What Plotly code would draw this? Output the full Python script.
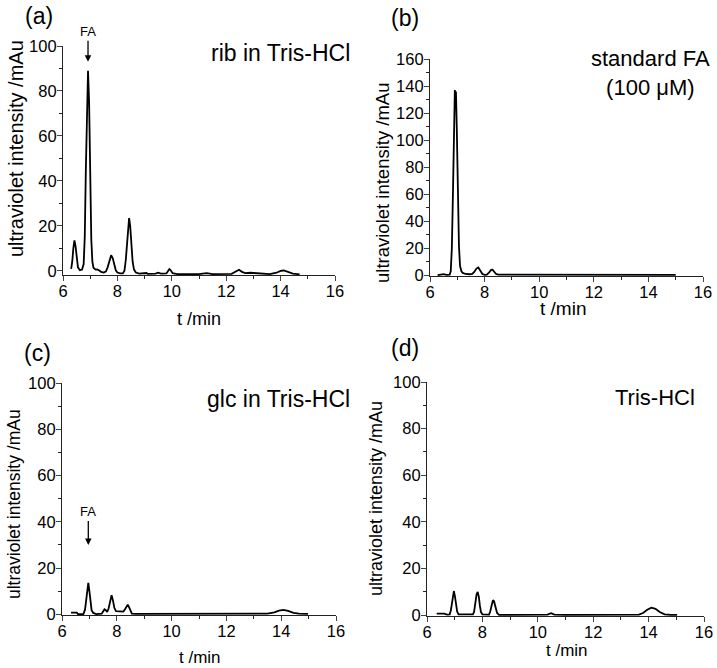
import plotly.graph_objects as go

# ---------------- data ----------------
t_a = [6.30, 6.34, 6.38, 6.42, 6.46, 6.50, 6.55, 6.62, 6.70, 6.76, 6.80, 6.84, 6.88, 6.92, 6.96,
       7.00, 7.04, 7.08, 7.12, 7.20, 7.26, 7.32, 7.40, 7.50, 7.58, 7.64, 7.70, 7.77, 7.83, 7.88,
       7.94, 8.00, 8.10, 8.20, 8.26, 8.31, 8.36, 8.40, 8.43, 8.47, 8.51, 8.56, 8.61, 8.68, 8.80,
       9.00, 9.06, 9.12, 9.40, 9.50, 9.60, 9.80, 9.86, 9.91, 9.96, 10.03, 10.20, 11.00, 11.28,
       11.50, 12.20, 12.35, 12.47, 12.58, 12.70, 12.90, 13.05, 13.25, 13.60, 13.85, 14.00, 14.12,
       14.25, 14.45, 14.70]
y_a = [0.8, 4, 10, 13.5, 11, 5, 1.5, 0.2, 0.5, 3, 15, 45, 78, 89, 75,
       40, 14, 4, 1.3, 0.5, 0.6, 0.2, -0.5, -0.8, -0.3, 1.5, 4.5, 6.9, 5.5, 2.5,
       0.2, -0.8, -1.2, -1.2, 0, 5, 14, 21, 23.4, 20, 12, 4, 0.5, -0.8, -1.3,
       -1.3, -1.0, -1.4, -1.3, -0.9, -1.3, -1.2, -0.2, 0.7, 0.2, -1.1, -1.5, -1.5, -1.1,
       -1.5, -1.4, -0.6, 0.4, -0.5, -1.1, -0.9, -1.0, -1.4, -1.5, -0.9, -0.1, 0.1,
       -0.4, -1.3, -1.6]

t_b = [6.28, 6.40, 6.50, 6.60, 6.72, 6.76, 6.80, 6.84, 6.88, 6.91, 6.93, 6.95, 6.98, 7.02, 7.06,
       7.10, 7.15, 7.20, 7.30, 7.45, 7.55, 7.62, 7.70, 7.77, 7.84, 7.92, 8.00, 8.08, 8.16, 8.24,
       8.29, 8.35, 8.42, 8.50, 9.00, 10.00, 11.00, 12.00, 13.00, 14.00, 15.00]
y_b = [0.2, 0.8, 0.9, 0.3, 0.5, 3, 20, 60, 110, 137, 134, 136, 110, 60, 22,
       7, 3, 1.8, 1.0, 0.8, 1.0, 2.5, 5, 5.8, 3.5, 1, 0.3, 0.5, 2, 4,
       4.2, 2.5, 1, 0.5, 0.5, 0.5, 0.4, 0.4, 0.4, 0.4, 0.4]

t_c = [6.33, 6.54, 6.58, 6.78, 6.84, 6.88, 6.92, 6.96, 7.00, 7.04, 7.08, 7.14, 7.25, 7.45, 7.50,
       7.55, 7.60, 7.65, 7.70, 7.75, 7.81, 7.86, 7.91, 7.97, 8.05, 8.15, 8.24, 8.30, 8.36, 8.40,
       8.45, 8.50, 8.55, 8.70, 10.00, 11.00, 12.00, 13.00, 13.50, 13.75, 13.92, 14.08, 14.25,
       14.45, 14.65, 14.98]
y_c = [0.7, 0.7, 0.1, 0.1, 2, 7, 12, 13.6, 10, 5, 1.8, 0.6, 0.1, 0.3, 1.2,
       2.2, 1.8, 1.0, 2.5, 6, 8.3, 6, 2.8, 1.4, 1.3, 1.4, 1.2, 2.2, 3.6, 4.2,
       3.0, 1.2, 0.3, 0.2, 0.2, 0.2, 0.2, 0.2, 0.3, 0.8, 1.6, 1.9, 1.5,
       0.6, 0.3, 0.2]

t_d = [6.35, 6.62, 6.72, 6.82, 6.86, 6.90, 6.94, 6.97, 7.01, 7.05, 7.09, 7.14, 7.50, 7.66, 7.70,
       7.74, 7.79, 7.83, 7.87, 7.91, 7.95, 8.00, 8.24, 8.28, 8.33, 8.38, 8.42, 8.47, 8.53, 8.60,
       9.00, 10.00, 10.35, 10.48, 10.60, 11.00, 12.00, 13.00, 13.65, 13.80, 13.95, 14.10, 14.25,
       14.40, 14.58, 14.80, 15.03]
y_d = [0.7, 0.7, 0.3, 0.4, 2, 6, 9.5, 10.4, 8, 4, 1.5, 0.4, 0.3, 0.4, 1.5,
       5, 9, 10.0, 8, 4, 1.3, 0.4, 0.3, 1.5, 4.5, 6.5, 6.0, 3.5, 1, 0.2,
       0.2, 0.2, 0.3, 0.9, 0.3, 0.2, 0.2, 0.2, 0.3, 1.0, 2.4, 3.3, 2.8,
       1.4, 0.4, 0.2, 0.2]

panel_letters = ["(a)", "(b)", "(c)", "(d)"]
sample_labels = ["rib in Tris-HCl", "standard FA<br>(100 μM)", "glc in Tris-HCl", "Tris-HCl"]
x_title = "t /min"
y_title = "ultraviolet intensity /mAu"
x_ticks = [6, 8, 10, 12, 14, 16]

# ---------------- layout ----------------
W, H = 717, 668
FONT = "Arial, 'Liberation Sans', sans-serif"
# plot boxes in pixels: left, right, top, bottom
boxes = [(63, 335, 46, 275), (430, 703, 59, 276), (62, 336, 383, 615), (427, 704, 382, 616)]
yranges = [[-1.9, 100], [-0.5, 160], [-0.3, 100], [-0.3, 100]]
series = [(t_a, y_a), (t_b, y_b), (t_c, y_c), (t_d, y_d)]

fig = go.Figure()
layout = dict(width=W, height=H, margin=dict(l=0, r=0, t=0, b=0, autoexpand=False),
              paper_bgcolor="white", plot_bgcolor="white", showlegend=False,
              font=dict(family=FONT, color="black"))
annotations = []

def px_x(p):
    return p / W

def px_y(p):
    return 1 - p / H

for i, ((tx, ty), box, yr) in enumerate(zip(series, boxes, yranges)):
    n = "" if i == 0 else str(i + 1)
    fig.add_trace(go.Scatter(x=tx, y=ty, mode="lines", xaxis="x" + n, yaxis="y" + n,
                             line=dict(color="black", width=1.8), hoverinfo="skip"))
    l, r, t, b = box
    layout["xaxis" + n] = dict(domain=[px_x(l), px_x(r)], range=[6, 16], anchor="y" + n,
                               automargin=False, ticklabelstandoff=-4,
                               tickvals=x_ticks, ticks="outside", ticklen=5, tickwidth=1,
                               showline=True, linecolor="#222", linewidth=1.2, showgrid=False,
                               zeroline=False, tickfont=dict(size=16.5, family=FONT),
                               minor=dict(dtick=1, tick0=6, ticks="outside", ticklen=3,
                                          tickcolor="#222", showgrid=False))
    layout["yaxis" + n] = dict(domain=[px_y(b), px_y(t)], range=yr, anchor="x" + n,
                               automargin=False, ticklabelstandoff=-3,
                               dtick=20, tick0=0, ticks="outside", ticklen=5, tickwidth=1,
                               showline=True, linecolor="#222", linewidth=1.2, showgrid=False,
                               zeroline=False, tickfont=dict(size=16.5, family=FONT),
                               minor=dict(dtick=10, tick0=0, ticks="outside", ticklen=3,
                                          tickcolor="#222", showgrid=False))

# panel letters
for lab, (x, y) in zip(panel_letters, [(39, 16), (405, 18), (37, 353), (405, 348)]):
    annotations.append(dict(text=lab, x=px_x(x), y=px_y(y), xref="paper", yref="paper",
                            showarrow=False, xanchor="center", yanchor="middle",
                            font=dict(size=23, family=FONT)))

# sample labels (right aligned)
for lab, (x, y), sz in zip(sample_labels, [(352, 53), (712, 73), (352, 399), (697, 397)],
                           [23, 22, 23, 22]):
    annotations.append(dict(text=lab, x=px_x(x), y=px_y(y), xref="paper", yref="paper",
                            showarrow=False, xanchor="right", yanchor="middle",
                            align="center", font=dict(size=sz, family=FONT)))

# x titles
for (x, y), sz in zip([(199, 319), (563, 309), (200, 657), (567, 650)], [18, 19, 17, 17]):
    annotations.append(dict(text=x_title, x=px_x(x), y=px_y(y), xref="paper", yref="paper",
                            showarrow=False, xanchor="center", yanchor="middle",
                            font=dict(size=sz, family=FONT)))

# y titles
for (x, y), sz in zip([(16, 149), (383, 183), (14, 504), (376, 499)], [20, 18.5, 17.5, 18]):
    annotations.append(dict(text=y_title, x=px_x(x), y=px_y(y), xref="paper", yref="paper",
                            showarrow=False, xanchor="center", yanchor="middle", textangle=-90,
                            font=dict(size=sz, family=FONT)))

# FA arrows
fa_a = t_a[y_a.index(max(y_a))]
fa_c = t_c[y_c.index(max(y_c))]
annotations.append(dict(text="FA", x=fa_a, y=93, xref="x", yref="y", showarrow=True,
                        ax=0, ay=-30, arrowhead=2, arrowsize=1, arrowwidth=1.3,
                        arrowcolor="black", font=dict(size=13, family=FONT)))
annotations.append(dict(text="FA", x=fa_c, y=30, xref="x3", yref="y3", showarrow=True,
                        ax=0, ay=-33, arrowhead=2, arrowsize=1, arrowwidth=1.3,
                        arrowcolor="black", font=dict(size=13, family=FONT)))

layout["annotations"] = annotations
fig.update_layout(**layout)
fig.write_html("out.html", config={"displayModeBar": False},
               post_script="document.body.style.margin='0';document.body.style.overflow='hidden';")
